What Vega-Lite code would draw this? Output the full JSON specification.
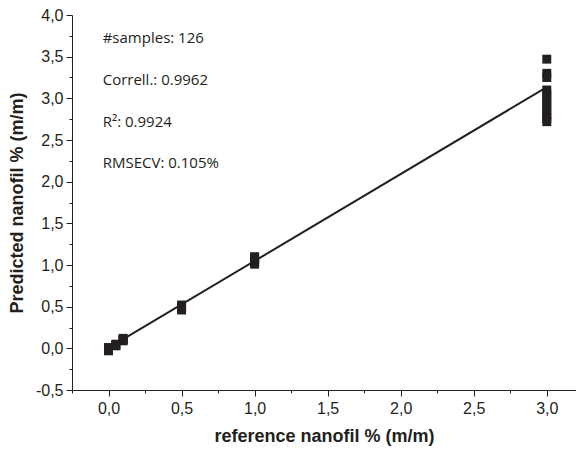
{
  "$schema": "https://vega.github.io/schema/vega-lite/v6.json",
  "width": 504,
  "height": 375,
  "autosize": {"type": "none"},
  "padding": {"left": 72, "top": 15, "right": 0, "bottom": 64},
  "background": "white",
  "config": {"view": {"stroke": null}},
  "datasets": {
    "pts": [
      {"ref": 0, "pred": -0.03}, {"ref": 0, "pred": -0.01}, {"ref": 0, "pred": 0.0}, {"ref": 0, "pred": 0.01}, {"ref": 0, "pred": -0.02},
      {"ref": 0.05, "pred": 0.03}, {"ref": 0.05, "pred": 0.05}, {"ref": 0.05, "pred": 0.04},
      {"ref": 0.1, "pred": 0.09}, {"ref": 0.1, "pred": 0.11}, {"ref": 0.1, "pred": 0.1}, {"ref": 0.1, "pred": 0.12},
      {"ref": 0.5, "pred": 0.46}, {"ref": 0.5, "pred": 0.48}, {"ref": 0.5, "pred": 0.5}, {"ref": 0.5, "pred": 0.52}, {"ref": 0.5, "pred": 0.49},
      {"ref": 1.0, "pred": 1.01}, {"ref": 1.0, "pred": 1.03}, {"ref": 1.0, "pred": 1.05}, {"ref": 1.0, "pred": 1.07}, {"ref": 1.0, "pred": 1.09}, {"ref": 1.0, "pred": 1.1},
      {"ref": 3.0, "pred": 3.47}, {"ref": 3.0, "pred": 3.3}, {"ref": 3.0, "pred": 3.25},
      {"ref": 3.0, "pred": 3.1}, {"ref": 3.0, "pred": 3.05}, {"ref": 3.0, "pred": 3.0}, {"ref": 3.0, "pred": 2.95}, {"ref": 3.0, "pred": 2.9},
      {"ref": 3.0, "pred": 2.85}, {"ref": 3.0, "pred": 2.8}, {"ref": 3.0, "pred": 2.76}, {"ref": 3.0, "pred": 2.72}
    ],
    "fit": [
      {"ref": 0, "pred": 0.005},
      {"ref": 3.0, "pred": 3.135}
    ],
    "notes": [
      {"ref": -0.04, "pred": 3.72, "label": "#samples: 126"},
      {"ref": -0.04, "pred": 3.22, "label": "Correll.: 0.9962"},
      {"ref": -0.04, "pred": 2.72, "label": "R²: 0.9924"},
      {"ref": -0.04, "pred": 2.22, "label": "RMSECV: 0.105%"}
    ]
  },
  "encoding": {
    "x": {
      "field": "ref", "type": "quantitative",
      "scale": {"domain": [-0.25, 3.2], "nice": false, "zero": false},
      "axis": {
        "title": "reference nanofil % (m/m)",
        "values": [-0.25, 0, 0.25, 0.5, 0.75, 1, 1.25, 1.5, 1.75, 2, 2.25, 2.5, 2.75, 3],
        "labelExpr": "abs(datum.value*2 - round(datum.value*2)) > 0.01 ? '' : (datum.value < 0 ? '-' : '') + replace(format(abs(datum.value), '.1f'), '.', ',')",
        "tickSize": {"condition": {"test": "abs(datum.value*2 - round(datum.value*2)) > 0.01", "value": 3}, "value": 6},
        "grid": false, "domainColor": "#231f20", "tickColor": "#231f20", "domainWidth": 1, "tickWidth": 1,
        "labelFont": "Liberation Sans", "labelFontSize": 16, "labelColor": "#231f20", "labelPadding": 4, "labelFlush": false,
        "titleFont": "Liberation Sans", "titleFontSize": 18, "titleFontWeight": "bold", "titleColor": "#231f20", "titlePadding": 11
      }
    },
    "y": {
      "field": "pred", "type": "quantitative",
      "scale": {"domain": [-0.5, 4.0], "nice": false, "zero": false},
      "axis": {
        "title": "Predicted nanofil % (m/m)",
        "values": [-0.5, -0.25, 0, 0.25, 0.5, 0.75, 1, 1.25, 1.5, 1.75, 2, 2.25, 2.5, 2.75, 3, 3.25, 3.5, 3.75, 4],
        "labelExpr": "abs(datum.value*2 - round(datum.value*2)) > 0.01 ? '' : (datum.value < 0 ? '-' : '') + replace(format(abs(datum.value), '.1f'), '.', ',')",
        "tickSize": {"condition": {"test": "abs(datum.value*2 - round(datum.value*2)) > 0.01", "value": 3}, "value": 6},
        "grid": false, "domainColor": "#231f20", "tickColor": "#231f20", "domainWidth": 1, "tickWidth": 1,
        "labelFont": "Liberation Sans", "labelFontSize": 16, "labelColor": "#231f20", "labelPadding": 3, "labelFlush": false,
        "titleFont": "Liberation Sans", "titleFontSize": 18, "titleFontWeight": "bold", "titleColor": "#231f20", "titlePadding": 9
      }
    }
  },
  "layer": [
    {
      "data": {"name": "fit"},
      "mark": {"type": "line", "color": "#231f20", "strokeWidth": 2},
      "encoding": {}
    },
    {
      "data": {"name": "pts"},
      "mark": {"type": "point", "shape": "square", "filled": true, "color": "#231f20", "opacity": 1, "size": 80}
    },
    {
      "data": {"name": "notes"},
      "mark": {"type": "text", "align": "left", "baseline": "middle", "font": "Open Sans", "fontSize": 15, "color": "#231f20"},
      "encoding": {"text": {"field": "label"}}
    }
  ]
}
